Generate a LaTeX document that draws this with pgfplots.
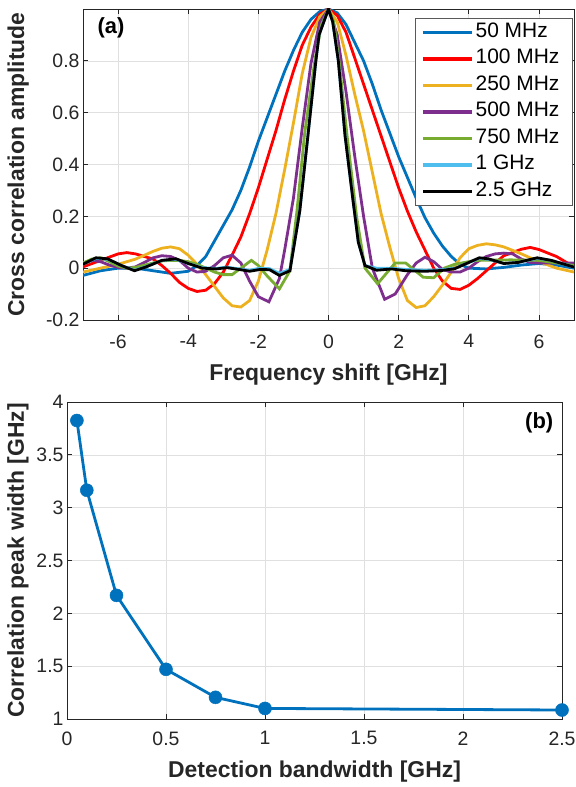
\documentclass[border=0pt]{standalone}
\usepackage{fontspec}
\setmainfont{Liberation Sans}
\usepackage{pgfplots}
\pgfplotsset{compat=1.18}
\definecolor{mblue}{rgb}{0,0.447,0.741}
\definecolor{mred}{rgb}{1,0,0}
\definecolor{myellow}{rgb}{0.929,0.694,0.125}
\definecolor{mpurple}{rgb}{0.494,0.184,0.556}
\definecolor{mgreen}{rgb}{0.466,0.674,0.188}
\definecolor{mlblue}{rgb}{0.301,0.745,0.933}
\definecolor{txt}{rgb}{0.15,0.15,0.15}
\definecolor{gridc}{rgb}{0.88,0.88,0.88}
\pgfplotsset{
  mstyle/.style={
    scale only axis,
    axis line style={draw=txt, line width=0.7bp},
    major tick style={draw=txt, line width=0.7bp},
    tick align=inside,
    major tick length=5bp,
    grid=major,
    major grid style={draw=gridc, line width=0.6bp},
    tick label style={font=\fontsize{19.5}{22}\selectfont, text=txt},
    label style={font=\bfseries\fontsize{23}{26}\selectfont, text=txt},
    /pgf/number format/assume math mode=true,
    every axis plot/.append style={line width=2.8bp},
  }
}
\begin{document}
\begin{tikzpicture}
\path[use as bounding box] (0,0) rectangle (576bp,787bp);
% ---------------- (a)
\begin{axis}[mstyle,
  at={(83bp,467bp)}, anchor=south west,
  width=491bp, height=311bp,
  xmin=-7, xmax=7, ymin=-0.2, ymax=1,
  xtick={-6,-4,...,6},
  ytick={-0.2,0,0.2,0.4,0.6,0.8},
  yticklabels={-0.2,0,0.2,0.4,0.6,0.8},
  xticklabel style={yshift=-11bp},
  xlabel={Frequency shift [GHz]},
  ylabel={Cross correlation amplitude},
  xlabel style={at={(axis description cs:0.5,-0.177)}, anchor=center},
  ylabel style={at={(axis description cs:-0.132,0.5)}, anchor=center},
  legend cell align=left,
  legend image code/.code={\draw[#1, line width=3.4bp] (0bp,0bp) -- (49bp,0bp);},
  legend style={at={(axis description cs:0.676,0.971)}, anchor=north west,
    draw=gray!70!black, line width=0.7bp, fill=white,
    font=\fontsize{21}{24}\selectfont, text=black,
    inner xsep=6bp, inner ysep=6bp, row sep=10.5bp,
    nodes={inner xsep=2bp, inner ysep=0bp, text height=13bp, text depth=3bp}},
]
\addplot[mblue] table {
-7 -0.028
-6.5 -0.01
-6 0.0
-5.5 0.0
-5 -0.01
-4.5 -0.02
-4 -0.012
-3.75 0.01
-3.5 0.045
-3.25 0.105
-3 0.165
-2.75 0.225
-2.5 0.30
-2.25 0.39
-2 0.49
-1.75 0.58
-1.5 0.67
-1.25 0.76
-1 0.84
-0.75 0.91
-0.5 0.96
-0.25 0.99
0 1
0.25 0.985
0.5 0.94
0.75 0.87
1 0.80
1.25 0.71
1.5 0.61
1.75 0.52
2 0.43
2.25 0.35
2.5 0.27
2.75 0.195
3 0.135
3.25 0.085
3.5 0.045
3.75 0.015
4 0.0
4.5 -0.003
5 0.003
5.5 0.012
6 0.018
6.5 0.012
7 0.0
};
\addlegendentry{50 MHz}
\addplot[mred] table {
-7 0.005
-6.5 0.03
-6 0.055
-5.75 0.06
-5.5 0.055
-5 0.035
-4.75 0.01
-4.5 -0.02
-4.25 -0.055
-4 -0.078
-3.75 -0.09
-3.5 -0.085
-3.25 -0.06
-3 -0.015
-2.75 0.05
-2.5 0.12
-2.25 0.21
-2 0.31
-1.75 0.42
-1.5 0.53
-1.25 0.65
-1 0.76
-0.75 0.86
-0.5 0.93
-0.25 0.98
0 1
0.25 0.975
0.5 0.91
0.75 0.81
1 0.71
1.25 0.61
1.5 0.51
1.75 0.41
2 0.31
2.25 0.22
2.5 0.14
2.75 0.07
3 0.0
3.25 -0.05
3.5 -0.078
3.75 -0.082
4 -0.066
4.25 -0.04
4.5 -0.01
4.75 0.02
5 0.048
5.5 0.073
5.75 0.08
6 0.072
6.5 0.045
7 0.005
};
\addlegendentry{100 MHz\hspace*{5bp}}
\addplot[myellow] table {
-7 -0.015
-6.5 0.0
-6 0.015
-5.5 0.035
-5 0.065
-4.75 0.077
-4.5 0.082
-4.25 0.075
-4 0.05
-3.75 0.015
-3.5 -0.025
-3.25 -0.07
-3 -0.115
-2.75 -0.145
-2.5 -0.15
-2.25 -0.125
-2 -0.05
-1.75 0.07
-1.5 0.21
-1.25 0.38
-1 0.56
-0.75 0.75
-0.5 0.89
-0.25 0.97
0 1
0.25 0.95
0.5 0.82
0.75 0.67
1 0.53
1.25 0.37
1.5 0.21
1.75 0.08
2 -0.04
2.25 -0.125
2.5 -0.152
2.75 -0.145
3 -0.11
3.25 -0.065
3.5 -0.015
3.75 0.04
4 0.075
4.25 0.088
4.5 0.094
4.75 0.09
5 0.082
5.5 0.055
6 0.025
6.5 0.0
7 -0.015
};
\addlegendentry{250 MHz}
\addplot[mpurple] table {
-7 0.02
-6.75 0.03
-6.5 0.025
-6.25 0.012
-6 0.003
-5.75 0.0
-5.5 0.005
-5.25 0.022
-5 0.04
-4.75 0.048
-4.5 0.045
-4.25 0.03
-4 0.0
-3.75 -0.015
-3.5 -0.012
-3.25 0.01
-3 0.04
-2.75 0.05
-2.5 0.02
-2.25 -0.05
-2 -0.11
-1.7 -0.13
-1.4 -0.04
-1.25 0.07
-1 0.27
-0.75 0.54
-0.5 0.79
-0.25 0.95
0 1
0.25 0.90
0.5 0.68
0.75 0.43
1 0.2
1.25 0.0
1.6 -0.12
1.9 -0.1
2.25 -0.025
2.5 0.02
2.75 0.042
3 0.025
3.25 -0.005
3.5 -0.015
3.75 -0.015
4 0.0
4.25 0.025
4.5 0.045
4.75 0.055
5 0.058
5.25 0.055
5.5 0.035
5.75 0.022
6 0.02
6.5 0.02
7 0.02
};
\addlegendentry{500 MHz}
\addplot[mgreen] table {
-7 0.02
-6.75 0.035
-6.5 0.04
-6.25 0.025
-6 0.008
-5.75 0.0
-5.5 0.003
-5 0.02
-4.75 0.028
-4.5 0.03
-4.25 0.03
-4 0.025
-3.75 0.015
-3.5 0.0
-3.25 -0.015
-3 -0.025
-2.75 -0.025
-2.5 0.0
-2.2 0.03
-2 0.01
-1.75 -0.03
-1.4 -0.08
-1.1 -0.01
-0.9 0.22
-0.68 0.52
-0.39 0.8
-0.2 0.94
0 1
0.15 0.95
0.3 0.8
0.53 0.51
0.8 0.2
1.04 0.0
1.4 -0.06
1.9 0.02
2.2 0.02
2.7 -0.035
3 -0.037
3.3 0.0
3.6 0.015
4.2 0.03
5.2 0.032
6 0.03
6.5 0.02
7 0.01
};
\addlegendentry{750 MHz}
\addplot[mlblue] table {
-7 0.015
-6.63 0.038
-6.3 0.034
-5.9 0.01
-5.53 -0.008
-5.2 0.006
-4.75 0.03
-4.35 0.034
-4 0.018
-3.6 0.002
-3.2 -0.001
-2.9 0.004
-2.5 -0.004
-2.25 -0.008
-1.95 0.0
-1.68 -0.002
-1.4 -0.02
-1.1 -0.005
-0.82 0.22
-0.58 0.52
-0.36 0.8
-0.27 0.9
0 1
0.12 0.95
0.28 0.8
0.47 0.513
0.7 0.26
0.85 0.1
1.04 0.01
1.37 0.0
1.8 0.0
2.2 -0.005
2.75 -0.008
3.23 -0.006
3.6 0.0
4.3 0.038
4.56 0.034
5 0.018
5.4 0.022
5.95 0.038
6.35 0.03
7 0.004
};
\addlegendentry{1 GHz}
\addplot[black] table {
-7 0.015
-6.63 0.04
-6.3 0.036
-5.9 0.01
-5.53 -0.01
-5.2 0.005
-4.75 0.03
-4.35 0.036
-4 0.018
-3.6 0.0
-3.2 -0.003
-2.9 0.002
-2.5 -0.006
-2.25 -0.012
-1.95 -0.005
-1.68 -0.006
-1.4 -0.028
-1.1 -0.01
-0.82 0.22
-0.58 0.52
-0.36 0.8
-0.27 0.9
0 1
0.12 0.95
0.28 0.8
0.47 0.513
0.7 0.26
0.85 0.1
1.04 0.01
1.37 -0.008
1.8 -0.003
2.2 -0.01
2.75 -0.012
3.23 -0.009
3.6 -0.002
4.3 0.04
4.56 0.036
5 0.018
5.4 0.022
5.95 0.04
6.35 0.03
7 0.004
};
\addlegendentry{2.5 GHz}
\node[font=\bfseries\fontsize{22}{26}\selectfont, text=black] at (axis description cs:0.057,0.939) {(a)};
\end{axis}
% ---------------- (b)
\begin{axis}[mstyle,
  at={(67bp,68bp)}, anchor=south west,
  width=495bp, height=317bp,
  xmin=0, xmax=2.5, ymin=1, ymax=4,
  xtick={0,0.5,...,2.5},
  ytick={1,1.5,...,4},
  xticklabel style={yshift=-9bp},
  xlabel={Detection bandwidth [GHz]},
  ylabel={Correlation peak width [GHz]},
  xlabel style={at={(axis description cs:0.5,-0.167)}, anchor=center},
  ylabel style={at={(axis description cs:-0.099,0.5)}, anchor=center},
  clip=false,
]
\addplot[mblue, mark=*, mark size=6.5bp, mark options={fill=mblue, draw=mblue, line width=0.5bp}] table {
0.05 3.825
0.1 3.165
0.25 2.17
0.5 1.47
0.75 1.205
1 1.1
2.5 1.085
};
\node[font=\bfseries\fontsize{22}{26}\selectfont, text=black] at (axis description cs:0.954,0.934) {(b)};
\end{axis}
\end{tikzpicture}
\end{document}
